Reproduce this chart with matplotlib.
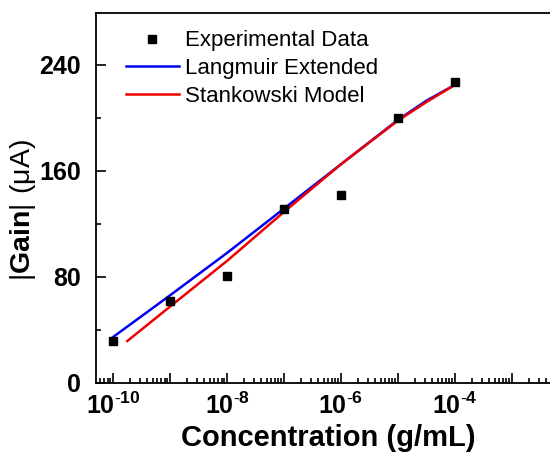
import numpy as np
import matplotlib
matplotlib.use("Agg")
import matplotlib.pyplot as plt
from matplotlib.ticker import LogLocator, FixedLocator, NullFormatter

plt.rcParams['font.family'] = ['Liberation Sans', 'DejaVu Sans']
plt.rcParams['mathtext.fontset'] = 'custom'
plt.rcParams['mathtext.rm'] = 'Liberation Sans'
plt.rcParams['mathtext.bf'] = 'Liberation Sans:bold'

# experimental points
conc = [1e-10, 1e-9, 1e-8, 1e-7, 1e-6, 1e-5, 1e-4]
gain = [31.7, 62, 80.6, 131, 142, 200, 227]

# Langmuir extended fit
lang_logc = [-10, -9, -8, -7, -6, -5, -4.5, -4]
lang_gain = [34.5, 66, 98, 131.5, 165, 198.5, 213, 225]

# Stankowski model fit
stan_logc = [-9.75, -9, -8, -7, -6, -5, -4.5, -4]
stan_gain = [31.5, 57.5, 92, 129, 165, 198, 212, 225]

fig = plt.figure(figsize=(5.5, 4.53), dpi=100)
ax = fig.add_axes([96/550, 70.3/453, (560-96)/550, 369.4/453])

ax.plot(10**np.array(lang_logc), lang_gain, color='#0000ee', lw=1.8, label='Langmuir Extended')
ax.plot(10**np.array(stan_logc), stan_gain, color='#ee0000', lw=1.8, label='Stankowski Model')
ax.plot(conc, gain, 's', color='black', ms=6, label='Experimental Data', zorder=5)

ax.set_xscale('log')
ax.set_xlim(10**-10.3, 10**-2.156)
ax.set_ylim(0, 279)

ax.xaxis.set_major_locator(FixedLocator([10.0**k for k in range(-10, -1)]))
ax.xaxis.set_minor_locator(LogLocator(base=10, subs=np.arange(2, 10), numticks=30))
ax.xaxis.set_minor_formatter(NullFormatter())
ax.set_xticklabels([r'$\mathbf{10^{\text{-}%d}}$' % -k if k % 2 == 0 and k <= -4 else ''
                    for k in range(-10, -1)])

ax.set_yticks([0, 80, 160, 240])
ax.set_yticks([40, 120, 200], minor=True)
ax.set_yticklabels(['0', '80', '160', '240'], fontweight='bold')

ax.tick_params(which='both', direction='in', labelsize=18, width=1.2)
ax.tick_params(which='major', length=7)
ax.tick_params(which='minor', length=3.5)
ax.tick_params(axis='y', pad=11)
ax.tick_params(axis='x', pad=7)
ax.spines['right'].set_visible(False)
for s in ['left', 'top', 'bottom']:
    ax.spines[s].set_linewidth(1.3)

ax.set_xlabel('Concentration (g/mL)', fontsize=21, fontweight='bold', labelpad=4)

fig.text(0.042, 0.536, r'$|\mathbf{Gain}|\ (\mathrm{μA})$', rotation=90,
         ha='center', va='center', fontsize=20.5)

h, l = ax.get_legend_handles_labels()
order = [2, 0, 1]
ax.legend([h[i] for i in order], [l[i] for i in order], loc='upper left',
          frameon=False, fontsize=16, handlelength=2.4, handletextpad=0.25,
          labelspacing=0.3, bbox_to_anchor=(0.021, 1.008))

fig.savefig('out.png', dpi=100)
